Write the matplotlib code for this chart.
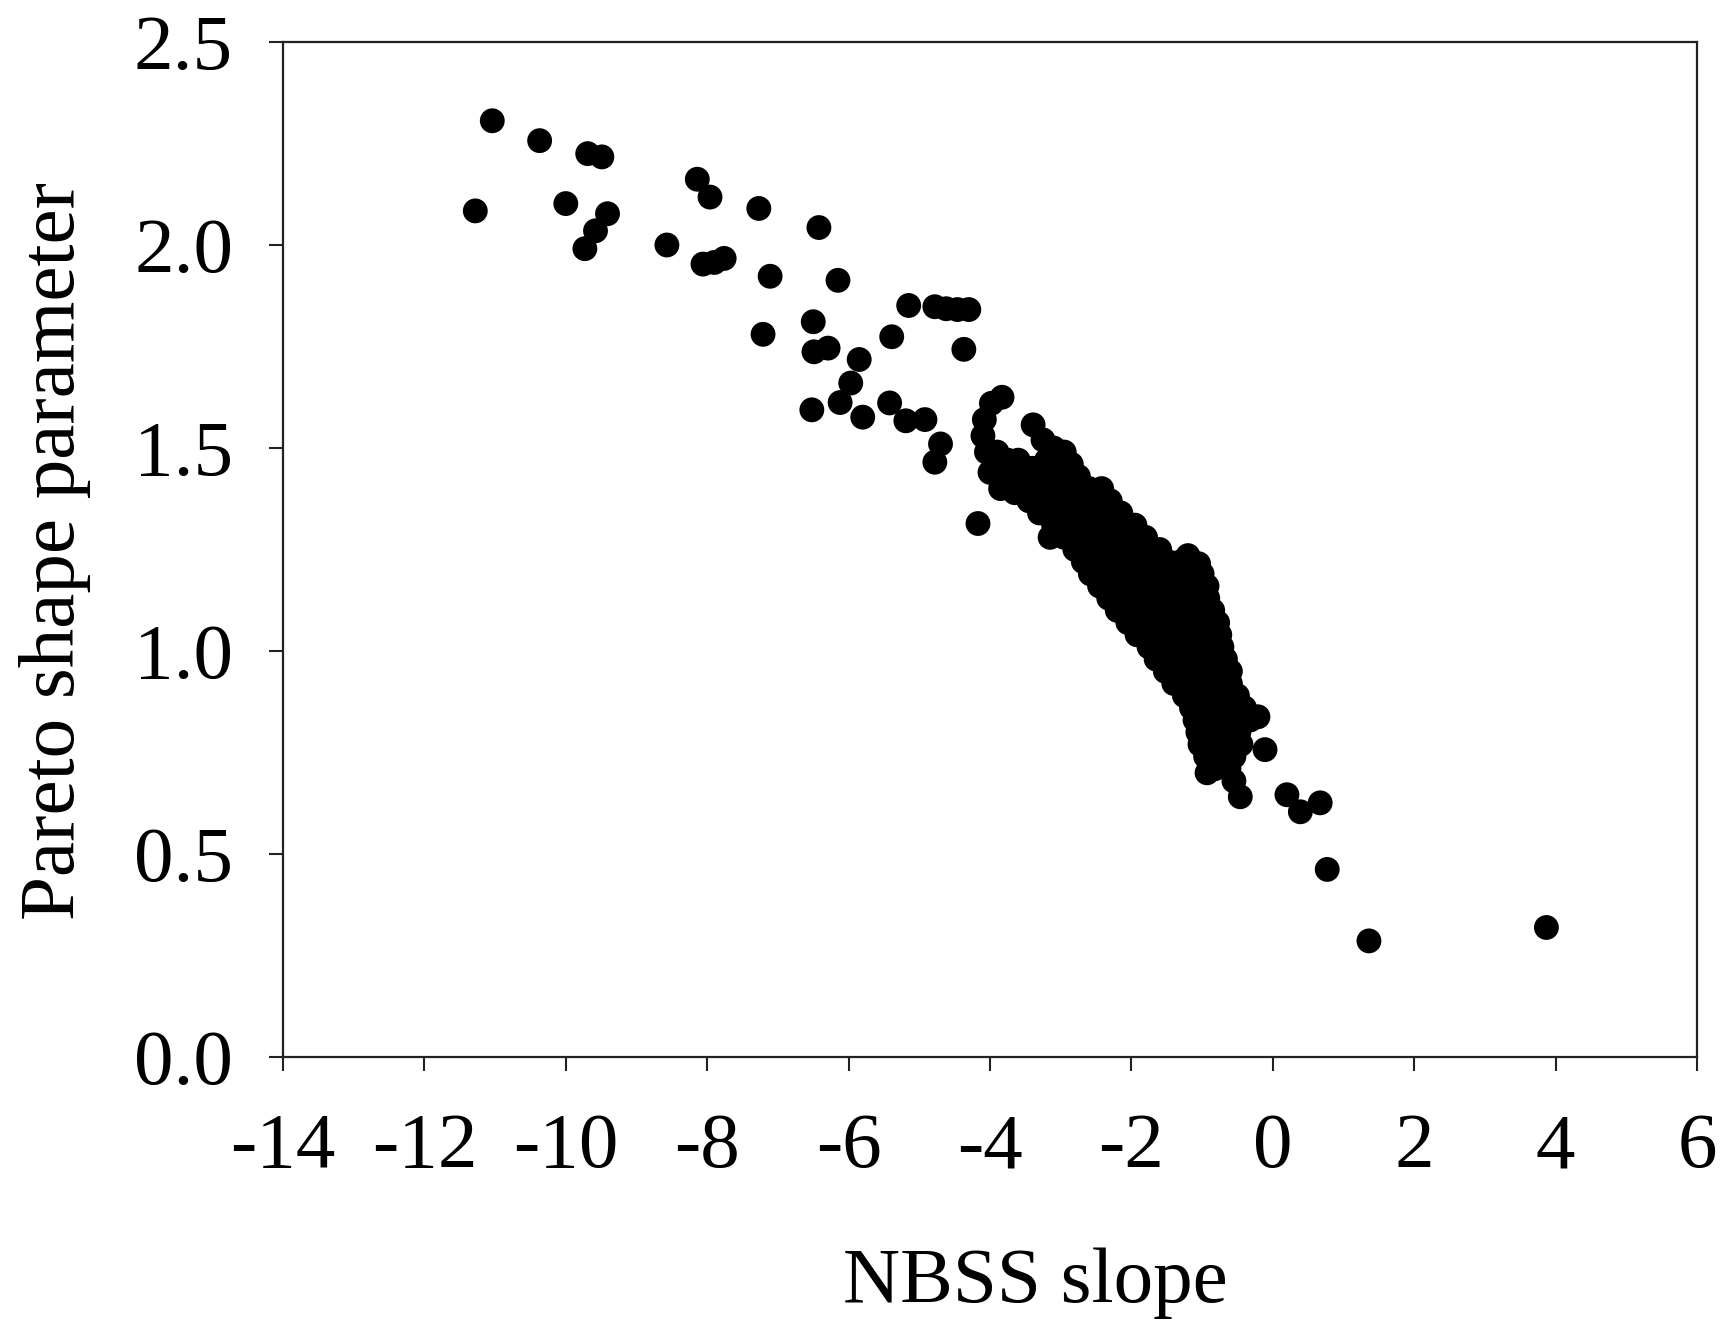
import matplotlib
matplotlib.use("Agg")
import matplotlib.pyplot as plt

# ---- data ----
# sparse upper-left points
x_sparse = [-11.28, -11.04, -10.37, -10.0, -9.69, -9.49, -9.41, -9.58, -9.73, -8.57,
            -8.14, -7.96, -8.06, -7.90, -7.76, -7.27, -7.11, -7.21, -6.42, -6.15,
            -6.50, -6.49, -6.29, -6.52, -5.85, -5.97, -6.12, -5.80, -5.39, -5.15,
            -5.42, -5.19, -4.92, -4.78, -4.62, -4.46, -4.30, -4.37, -4.70, -4.78,
            -4.17]
y_sparse = [2.084, 2.306, 2.257, 2.102, 2.225, 2.217, 2.077, 2.035, 1.991, 2.000,
            2.162, 2.118, 1.953, 1.957, 1.967, 2.090, 1.923, 1.780, 2.043, 1.913,
            1.811, 1.737, 1.746, 1.594, 1.718, 1.660, 1.612, 1.576, 1.774, 1.851,
            1.611, 1.567, 1.570, 1.848, 1.843, 1.841, 1.841, 1.743, 1.510, 1.465,
            1.314]

# hook / top of the dense cluster
x_top = [-3.83, -3.98, -4.08, -4.10, -4.05, -3.90, -3.75, -3.60, -4.00, -3.85,
         -3.70, -3.55, -3.40, -3.85, -3.65, -3.45, -3.30,
         -3.39, -3.25, -3.10, -2.95, -3.05, -2.85, -3.20, -2.75, -2.90, -3.10,
         -3.25, -3.15]
y_top = [1.625, 1.610, 1.570, 1.530, 1.490, 1.490, 1.470, 1.470, 1.440, 1.430,
         1.420, 1.440, 1.450, 1.400, 1.390, 1.400, 1.420,
         1.557, 1.520, 1.500, 1.490, 1.460, 1.460, 1.470, 1.430, 1.430, 1.430,
         1.430, 1.280]

# dense band
x_band = [-3.20, -3.00, -2.80, -2.60, -2.42,
          -3.45, -3.25, -3.05, -2.85, -2.65, -2.45, -2.30,
          -3.30, -3.10, -2.90, -2.70, -2.50, -2.30, -2.15,
          -3.10, -2.90, -2.70, -2.50, -2.30, -2.10, -1.95,
          -2.95, -2.75, -2.55, -2.35, -2.15, -1.95, -1.80,
          -2.80, -2.60, -2.40, -2.20, -2.00, -1.80, -1.60,
          -2.68, -2.48, -2.28, -2.08, -1.88, -1.68, -1.48, -1.30, -1.20, -1.05,
          -2.58, -2.38, -2.18, -1.98, -1.78, -1.58, -1.38, -1.18, -1.00,
          -2.45, -2.25, -2.05, -1.85, -1.65, -1.45, -1.25, -1.05, -0.93,
          -2.32, -2.12, -1.92, -1.72, -1.52, -1.32, -1.12, -0.92,
          -2.20, -2.00, -1.80, -1.60, -1.40, -1.20, -1.00, -0.85,
          -2.05, -1.85, -1.65, -1.45, -1.25, -1.05, -0.85, -0.78,
          -1.92, -1.72, -1.52, -1.32, -1.12, -0.92, -0.75,
          -1.75, -1.55, -1.35, -1.15, -0.95, -0.72,
          -1.65, -1.45, -1.25, -1.05, -0.85, -0.67,
          -1.52, -1.32, -1.12, -0.92, -0.72, -0.60,
          -1.40, -1.20, -1.00, -0.80, -0.60,
          -1.25, -1.05, -0.85, -0.65, -0.50,
          -1.15, -0.95, -0.75, -0.55, -0.40,
          -1.10, -0.90, -0.70, -0.50, -0.32,
          -1.06, -0.86, -0.66, -0.48,
          -1.03, -0.83, -0.63, -0.45,
          -0.95, -0.75, -0.55,
          -0.82, -0.62,
          -0.55]
y_band = [1.40, 1.40, 1.40, 1.40, 1.40,
          1.37, 1.37, 1.37, 1.37, 1.37, 1.37, 1.37,
          1.34, 1.34, 1.34, 1.34, 1.34, 1.34, 1.34,
          1.31, 1.31, 1.31, 1.31, 1.31, 1.31, 1.31,
          1.28, 1.28, 1.28, 1.28, 1.28, 1.28, 1.28,
          1.25, 1.25, 1.25, 1.25, 1.25, 1.25, 1.25,
          1.22, 1.22, 1.22, 1.22, 1.22, 1.22, 1.22, 1.22, 1.235, 1.215,
          1.19, 1.19, 1.19, 1.19, 1.19, 1.19, 1.19, 1.19, 1.19,
          1.16, 1.16, 1.16, 1.16, 1.16, 1.16, 1.16, 1.16, 1.16,
          1.13, 1.13, 1.13, 1.13, 1.13, 1.13, 1.13, 1.13,
          1.10, 1.10, 1.10, 1.10, 1.10, 1.10, 1.10, 1.10,
          1.07, 1.07, 1.07, 1.07, 1.07, 1.07, 1.07, 1.07,
          1.04, 1.04, 1.04, 1.04, 1.04, 1.04, 1.04,
          1.01, 1.01, 1.01, 1.01, 1.01, 1.01,
          0.98, 0.98, 0.98, 0.98, 0.98, 0.98,
          0.95, 0.95, 0.95, 0.95, 0.95, 0.95,
          0.92, 0.92, 0.92, 0.92, 0.92,
          0.89, 0.89, 0.89, 0.89, 0.89,
          0.86, 0.86, 0.86, 0.86, 0.86,
          0.83, 0.83, 0.83, 0.83, 0.83,
          0.80, 0.80, 0.80, 0.80,
          0.77, 0.77, 0.77, 0.77,
          0.74, 0.74, 0.74,
          0.71, 0.71,
          0.68]

# lower-right tail
x_tail = [-0.21, -0.11, 0.20, 0.39, 0.67, -0.46, -0.93, 0.77, 1.36, 3.87]
y_tail = [0.838, 0.757, 0.646, 0.604, 0.626, 0.641, 0.700, 0.462, 0.286, 0.319]

x_ticks = [-14, -12, -10, -8, -6, -4, -2, 0, 2, 4, 6]
x_ticklabels = ["-14", "-12", "-10", "-8", "-6", "-4", "-2", "0", "2", "4", "6"]
y_ticks = [0.0, 0.5, 1.0, 1.5, 2.0, 2.5]
y_ticklabels = ["0.0", "0.5", "1.0", "1.5", "2.0", "2.5"]

x_label = "NBSS slope"
y_label = "Pareto shape parameter"

# ---- figure ----
plt.rcParams['font.family'] = ['Liberation Serif', 'DejaVu Serif']

W, H = 1720, 1327
fig = plt.figure(figsize=(W / 100, H / 100), dpi=100)
left, right = 283 / W, 1697 / W
bottom, top = 1 - 1057 / H, 1 - 42 / H
ax = fig.add_axes([left, bottom, right - left, top - bottom])

xs = x_sparse + x_top + x_band + x_tail
ys = y_sparse + y_top + y_band + y_tail
ax.scatter(xs, ys, s=320, c='black', edgecolors='none', zorder=3)

ax.set_xlim(-14, 6)
ax.set_ylim(0, 2.5)
ax.set_xticks(x_ticks)
ax.set_xticklabels(x_ticklabels)
ax.set_yticks(y_ticks)
ax.set_yticklabels(y_ticklabels)

for sp in ax.spines.values():
    sp.set_linewidth(1.6)
    sp.set_color('#222222')

ax.tick_params(axis='both', which='both', direction='out', length=10, width=1.5,
               labelsize=57, colors='#222222', labelcolor='black')
ax.tick_params(axis='x', pad=30, top=False)
ax.tick_params(axis='y', pad=26, right=False)

fig.text(1035 / W, 1 - 1283 / H, x_label, ha='center', va='center', fontsize=57)
fig.text(55 / W, 1 - 551 / H, y_label, ha='center', va='center', fontsize=57,
         rotation=90)

fig.savefig("out.png", dpi=100)
